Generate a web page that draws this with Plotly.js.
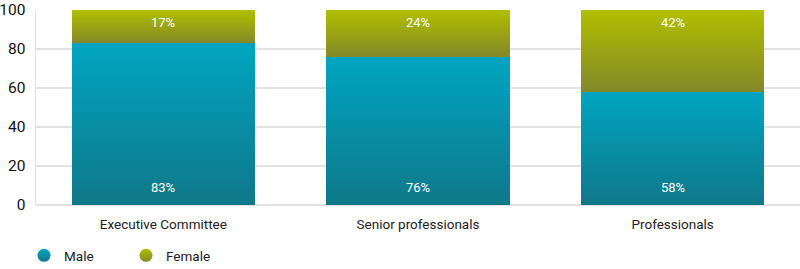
<!DOCTYPE html>
<html><head><meta charset="utf-8">
<script src="https://cdn.plot.ly/plotly-3.0.1.min.js"></script>
<style>html,body{margin:0;padding:0;background:#fff}#chart{width:800px;height:269px}</style>
</head><body><div id="chart"></div>
<script>
const categories = ["Executive Committee", "Senior professionals", "Professionals"];
const male = [83, 76, 58];
const female = [17, 24, 42];
const maleLabels = ["83%", "76%", "58%"];
const femaleLabels = ["17%", "24%", "42%"];
const yTicks = [0, 20, 40, 60, 80, 100];

const font = "Roboto, 'Open Sans', sans-serif";
const data = [
  {type:"bar", x:categories, y:male, name:"Male",
   marker:{color:"#0190a8", line:{width:0}}, showlegend:false, hoverinfo:"none"},
  {type:"bar", x:categories, y:female, name:"Female",
   marker:{color:"#9aa514", line:{width:0}}, showlegend:false, hoverinfo:"none"},
  {type:"scatter", mode:"markers", x:[null], y:[null], name:"Male",
   marker:{symbol:"circle", size:13, color:"#0190a8"}},
  {type:"scatter", mode:"markers", x:[null], y:[null], name:"Female",
   marker:{symbol:"circle", size:13, color:"#9aa514"}}
];
const annotations = [];
categories.forEach((c,i)=>{
  annotations.push({x:c, y:0, xref:"x", yref:"y", text:maleLabels[i], showarrow:false,
    yshift:18, font:{color:"#fff", size:13, family:font}});
  annotations.push({x:c, y:male[i]+female[i], xref:"x", yref:"y", text:femaleLabels[i], showarrow:false,
    yshift:-12, font:{color:"#fff", size:13, family:font}});
});
const layout = {
  width:800, height:269, barmode:"stack", bargap:0.28,
  margin:{l:36, r:0, t:10, b:64},
  paper_bgcolor:"#fff", plot_bgcolor:"#fff",
  font:{family:font, color:"#222", size:13},
  annotations: annotations,
  xaxis:{type:"category", showgrid:false, zeroline:false, showline:false,
         tickfont:{size:13.5, color:"#222"}, ticks:"", ticklen:0, ticklabelstandoff:9},
  yaxis:{range:[0,100], tickvals:yTicks, ticktext:yTicks.map(String), showgrid:true,
         gridcolor:"#e2e2e2", gridwidth:1.5, zeroline:true, zerolinecolor:"#e2e2e2", zerolinewidth:1.5,
         showline:true, linecolor:"#e2e2e2", linewidth:1.5,
         tickfont:{size:15.5, color:"#111"}, ticks:"", ticklabelstandoff:6},
  showlegend:true,
  legend:{orientation:"h", traceorder:"normal", xref:"container", yref:"container",
          x:0.03, xanchor:"left", y:0.05, yanchor:"middle",
          font:{size:13.5, color:"#222"}, entrywidth:57, entrywidthmode:"pixels",
          itemwidth:30, itemclick:false, itemdoubleclick:false}
};

function addGradients(){
  const svg = document.querySelector("#chart .main-svg");
  if(!svg) return;
  const ns = "http://www.w3.org/2000/svg";
  let defs = svg.querySelector("defs");
  if(!defs){ defs = document.createElementNS(ns,"defs"); svg.insertBefore(defs, svg.firstChild); }
  function grad(id, top, bot){
    if(document.getElementById(id)) return;
    const g = document.createElementNS(ns,"linearGradient");
    g.setAttribute("id",id); g.setAttribute("x1","0"); g.setAttribute("y1","0");
    g.setAttribute("x2","0"); g.setAttribute("y2","1");
    [[0,top],[1,bot]].forEach(([o,c])=>{const s=document.createElementNS(ns,"stop");
      s.setAttribute("offset",o); s.setAttribute("stop-color",c); g.appendChild(s);});
    defs.appendChild(g);
  }
  grad("gMale","#00a5c1","#0f7889");
  grad("gFemale","#b0bf00","#848828");
  const traces = document.querySelectorAll("#chart .barlayer .trace");
  traces.forEach((t,i)=>{
    t.querySelectorAll("path").forEach(p=>{p.style.fill = i===0 ? "url(#gMale)" : "url(#gFemale)";});
  });
  const leg = document.querySelectorAll("#chart .legend .traces");
  leg.forEach(t=>{
    const name = (t.querySelector(".legendtext")||{}).textContent;
    t.querySelectorAll(".scatterpts").forEach(p=>{p.style.fill = name==="Male" ? "url(#gMale)" : "url(#gFemale)";});
  });
}
Plotly.newPlot("chart", data, layout, {displayModeBar:false, staticPlot:true}).then(()=>{
  addGradients();
});
</script></body></html>
